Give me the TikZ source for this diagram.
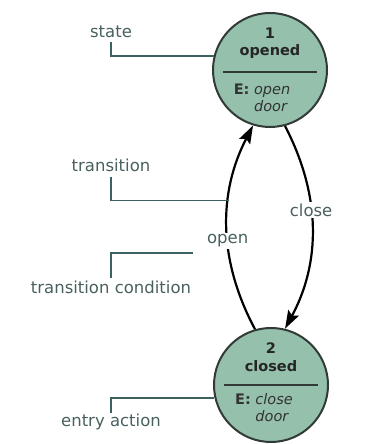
\documentclass[tikz,border=0pt]{standalone}
\usepackage{fontspec}
\setmainfont{DejaVu Sans}
\usepackage{tikz}
\usetikzlibrary{arrows.meta,positioning,calc}
\usepackage{xcolor}
\definecolor{statefill}{RGB}{148,192,172}
\definecolor{stateline}{RGB}{50,58,56}
\definecolor{notegrey}{RGB}{72,96,94}
\definecolor{noteline}{RGB}{58,98,96}

\begin{document}
\begin{tikzpicture}[x=1pt, y=1pt,
    state/.style={circle, draw=stateline, line width=2pt, fill=statefill, minimum size=114pt, inner sep=0pt},
    stitle/.style={font=\fontsize{14.5}{17}\selectfont\bfseries, text=black!85, inner sep=0pt},
    sentry/.style={font=\fontsize{14.5}{17}\selectfont, text=black!80, align=left, inner sep=0pt},
    note/.style={font=\fontsize{16.5}{19}\selectfont, text=notegrey, inner sep=1pt},
    noteline/.style={draw=noteline, line width=1.5pt},
    trans/.style={line width=2.2pt, -{Stealth[length=18pt, width=12pt, inset=3pt]}},
    tlabel/.style={font=\fontsize{16.5}{19}\selectfont, text=notegrey, fill=white, inner sep=1.5pt}
]
    \useasboundingbox (0,0) rectangle (376,444);

    % States
    \node[state] (opened) at (270,374) {};
    \node[state] (closed) at (271,59) {};
    \draw[stateline, line width=1.6pt] ($(opened.center)+(-47,-2)$) -- ($(opened.center)+(47,-2)$);
    \draw[stateline, line width=1.6pt] ($(closed.center)+(-47,0)$) -- ($(closed.center)+(47,0)$);

    \node[stitle] (n1) at (270,411) {1};
    \node[stitle] (t1) at (270,392) {opened};
    \node[sentry] (e1) at (262,346) {\textbf{E:} \textit{open}\\\phantom{\textbf{E:} }\textit{door}};
    \node[stitle] (n2) at (271,96) {2};
    \node[stitle] (t2) at (271,78) {closed};
    \node[sentry] (e2) at (264,36) {\textbf{E:} \textit{close}\\\phantom{\textbf{E:} }\textit{door}};

    % Transitions
    \draw[trans] (closed.106) .. controls (218,184) and (218,251) .. (opened.253)
        node[pos=0.43, tlabel] (openlbl) {open}
        coordinate[pos=0.63] (trpt);
    \draw[trans] (opened.285) .. controls (321,249) and (321,182) .. (closed.76)
        node[pos=0.41, tlabel] (closelbl) {close};

    % Annotations
    \node[note] (statelbl) at (111,412) {state};
    \draw[noteline] ([yshift=-3pt]statelbl.south) |- (opened.166);

    \node[note] (translbl) at (111,279) {transition};
    \draw[noteline] ([yshift=-4pt]translbl.south) |- (trpt);

    \coordinate (condend) at (193,191);
    \node[note] (condlbl) at (111,157) {transition condition};
    \draw[noteline] ([yshift=1pt]condlbl.north) |- (condend);

    \node[note] (entrylbl) at (111,22) {entry action};
    \draw[noteline] ([yshift=0pt]entrylbl.north) |- (closed.193);
\end{tikzpicture}
\end{document}
